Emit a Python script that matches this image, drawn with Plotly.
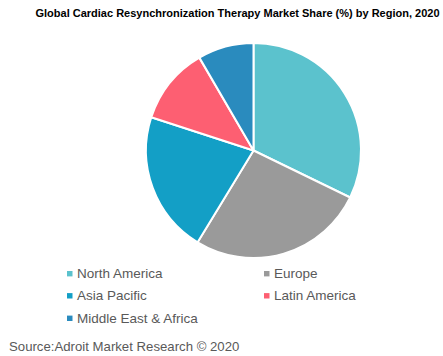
import plotly.graph_objects as go

regions = ["North America", "Europe", "Asia Pacific", "Latin America", "Middle East & Africa"]
shares = [32.2, 26.5, 21.3, 11.6, 8.4]
colors = ["#5BC2CD", "#9A9A9A", "#139FC6", "#FD5F72", "#2A8BBE"]

W, H = 443, 356
FONT = "Arial, Liberation Sans, sans-serif"

fig = go.Figure(go.Pie(
    labels=regions, values=shares, sort=False, direction="clockwise", rotation=0,
    marker=dict(colors=colors, line=dict(color="white", width=2)),
    textinfo="none", hoverinfo="label+percent", showlegend=False,
    domain=dict(x=[146 / W, 361 / W], y=[1 - 258 / H, 1 - 43 / H]),
))

# legend (two columns) drawn as small squares + labels
col_x = [67, 264]
row_y = [273.7, 295.8, 318.3]
shapes, annotations = [], []
for i, (name, c) in enumerate(zip(regions, colors)):
    cx = col_x[i % 2]
    cy = row_y[i // 2]
    shapes.append(dict(type="rect", xref="paper", yref="paper",
                       x0=cx / W, x1=(cx + 5.5) / W, y0=1 - (cy + 2.7) / H, y1=1 - (cy - 2.7) / H,
                       fillcolor=c, line=dict(width=0)))
    annotations.append(dict(text=name, xref="paper", yref="paper", x=(cx + 7.5) / W, y=1 - cy / H,
                            xanchor="left", yanchor="middle", showarrow=False,
                            font=dict(family=FONT, size=13.5, color="#595959")))

annotations.append(dict(text="Source:Adroit Market Research © 2020", xref="paper", yref="paper",
                        x=6.5 / W, y=1 - 346.5 / H, xanchor="left", yanchor="middle", showarrow=False,
                        font=dict(family=FONT, size=13.2, color="#595959")))

fig.update_layout(
    width=W, height=H, margin=dict(l=0, r=0, t=0, b=0),
    paper_bgcolor="white", plot_bgcolor="white",
    title=dict(text="<b>Global Cardiac Resynchronization Therapy Market Share (%) by Region, 2020</b>",
               x=237.5 / W, xanchor="center", y=1 - 13 / H, yanchor="middle",
               font=dict(family=FONT, size=11, color="black")),
    shapes=shapes, annotations=annotations,
)

fig.write_html("out.html", config={"displayModeBar": False},
               post_script="document.body.style.margin='0';document.body.style.overflow='hidden';")
